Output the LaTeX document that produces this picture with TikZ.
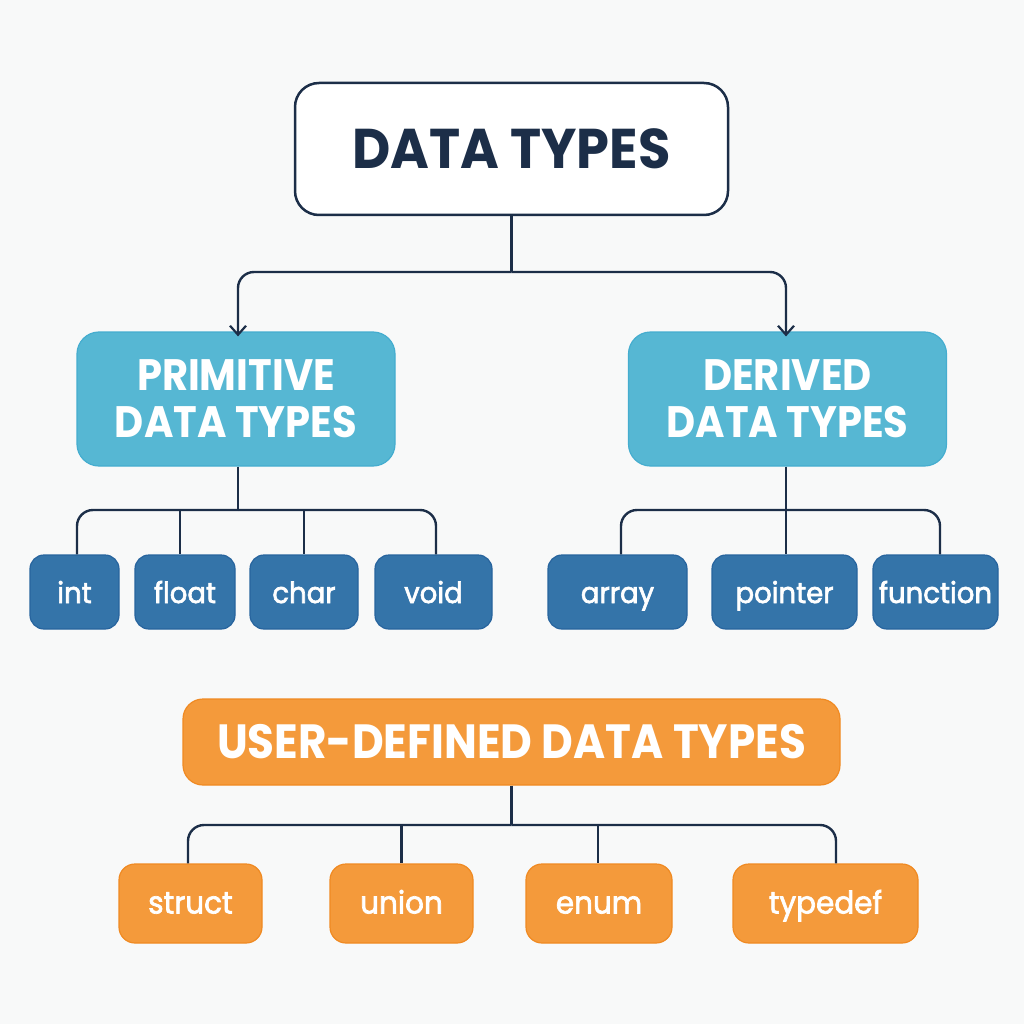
\documentclass[tikz,border=0pt]{standalone}
\usepackage{fontspec}
\setmainfont{Poppins}
\newfontfamily\hfont{Poppins}[FakeStretch=0.91]
\newfontfamily\topfont{Poppins}[FakeStretch=0.94]
\newfontfamily\lfont{Poppins}[FakeBold=2.2,FakeStretch=0.95]
\usetikzlibrary{arrows.meta}
\definecolor{bg}{HTML}{F8F9F9}
\definecolor{navy}{HTML}{1C2E48}
\definecolor{sky}{HTML}{56B7D3}
\definecolor{skyd}{HTML}{45ADCF}
\definecolor{blu}{HTML}{3474A9}
\definecolor{blud}{HTML}{27649E}
\definecolor{org}{HTML}{F49A3B}
\definecolor{orgd}{HTML}{F08A22}
\tikzset{
  rootbox/.style={draw=navy,line width=2.5pt,fill=white,rounded corners=24pt,minimum width=433pt,minimum height=132pt,text=navy,font=\topfont\fontsize{56}{60}\selectfont\bfseries},
  catbox/.style={draw=skyd,line width=1.2pt,fill=sky,rounded corners=22pt,minimum width=318pt,minimum height=134pt,text=white,align=center,font=\hfont\fontsize{44}{47}\selectfont\bfseries},
  leafbox/.style={draw=blud,line width=1.2pt,fill=blu,rounded corners=14pt,minimum height=74pt,text=white,inner sep=0pt,text height=22pt,text depth=0pt,font=\lfont\fontsize{29}{32}\selectfont},
  userbox/.style={draw=orgd,line width=1.2pt,fill=org,rounded corners=20pt,minimum width=657pt,minimum height=86pt,text=white,font=\hfont\fontsize{48}{52}\selectfont\bfseries},
  uleaf/.style={draw=orgd,line width=1.2pt,fill=org,rounded corners=16pt,minimum height=79pt,text=white,inner sep=0pt,text height=20pt,text depth=0pt,font=\lfont\fontsize{31}{34}\selectfont},
  conn/.style={draw=navy,line width=2.4pt,rounded corners=16pt},
  arr/.style={conn,-{Straight Barb[length=9pt,width=16pt,line width=2.2pt]}}
}
\begin{document}
\begin{tikzpicture}[x=1pt,y=-1pt]
\fill[bg] (0,0) rectangle (1024,1024);
\useasboundingbox (0,0) rectangle (1024,1024);
% root
\node[rootbox] (root) at (511.5,149) {DATA TYPES};
% categories
\node[catbox] (prim) at (236,399) {PRIMITIVE\\DATA TYPES};
\node[catbox] (der) at (787.5,399) {DERIVED\\DATA TYPES};
\coordinate (j1) at (511.5,272);
\draw[conn] (root.south) -- (j1);
\draw[arr] (j1) -| ([yshift=-5pt]prim.north -| 238,0);
\draw[arr] (j1) -| ([yshift=-5pt]der.north -| 786,0);
% primitive leaves
\node[leafbox,minimum width=89pt] (int) at (74.5,592) {int};
\node[leafbox,minimum width=100pt] (float) at (185,592) {float};
\node[leafbox,minimum width=108pt] (char) at (304,592) {char};
\node[leafbox,minimum width=117pt] (void) at (433.5,592) {void};
\coordinate (j2) at (238,510);
\draw[conn] (prim.south -| j2) -- (j2);
\draw[conn] (j2) -| ([xshift=2.5pt]int.north);
\draw[conn] (j2) -| ([xshift=2.5pt]void.north);
\draw[conn] ([xshift=-5pt]float.north |- j2) -- ([xshift=-5pt]float.north);
\draw[conn] (char.north |- j2) -- (char.north);
% derived leaves
\node[leafbox,minimum width=139pt] (array) at (617.5,592) {array};
\node[leafbox,minimum width=145pt] (pointer) at (784.5,592) {pointer};
\node[leafbox,minimum width=125pt] (function) at (935.5,592) {function};
\coordinate (j3) at (786,510);
\draw[conn] (der.south -| j3) -- (j3);
\draw[conn] (j3) -| ([xshift=3.5pt]array.north);
\draw[conn] (j3) -| ([xshift=4.5pt]function.north);
\draw[conn] (j3) -- ([xshift=1.5pt]pointer.north);
% user-defined
\node[userbox] (user) at (511.5,742) {USER-DEFINED DATA TYPES};
\node[uleaf,minimum width=143pt] (struct) at (190.5,903.5) {struct};
\node[uleaf,minimum width=143pt] (union) at (401.5,903.5) {union};
\node[uleaf,minimum width=146pt] (enum) at (599,903.5) {enum};
\node[uleaf,minimum width=185pt] (typedef) at (825.5,903.5) {typedef};
\coordinate (j4) at (511.5,825);
\draw[conn] (user.south) -- (j4);
\draw[conn] (j4) -| ([xshift=-2.5pt]struct.north);
\draw[conn] (j4) -| ([xshift=10.5pt]typedef.north);
\draw[conn] (union.north |- j4) -- (union.north);
\draw[conn] ([xshift=-1pt]enum.north |- j4) -- ([xshift=-1pt]enum.north);
\end{tikzpicture}
\end{document}
